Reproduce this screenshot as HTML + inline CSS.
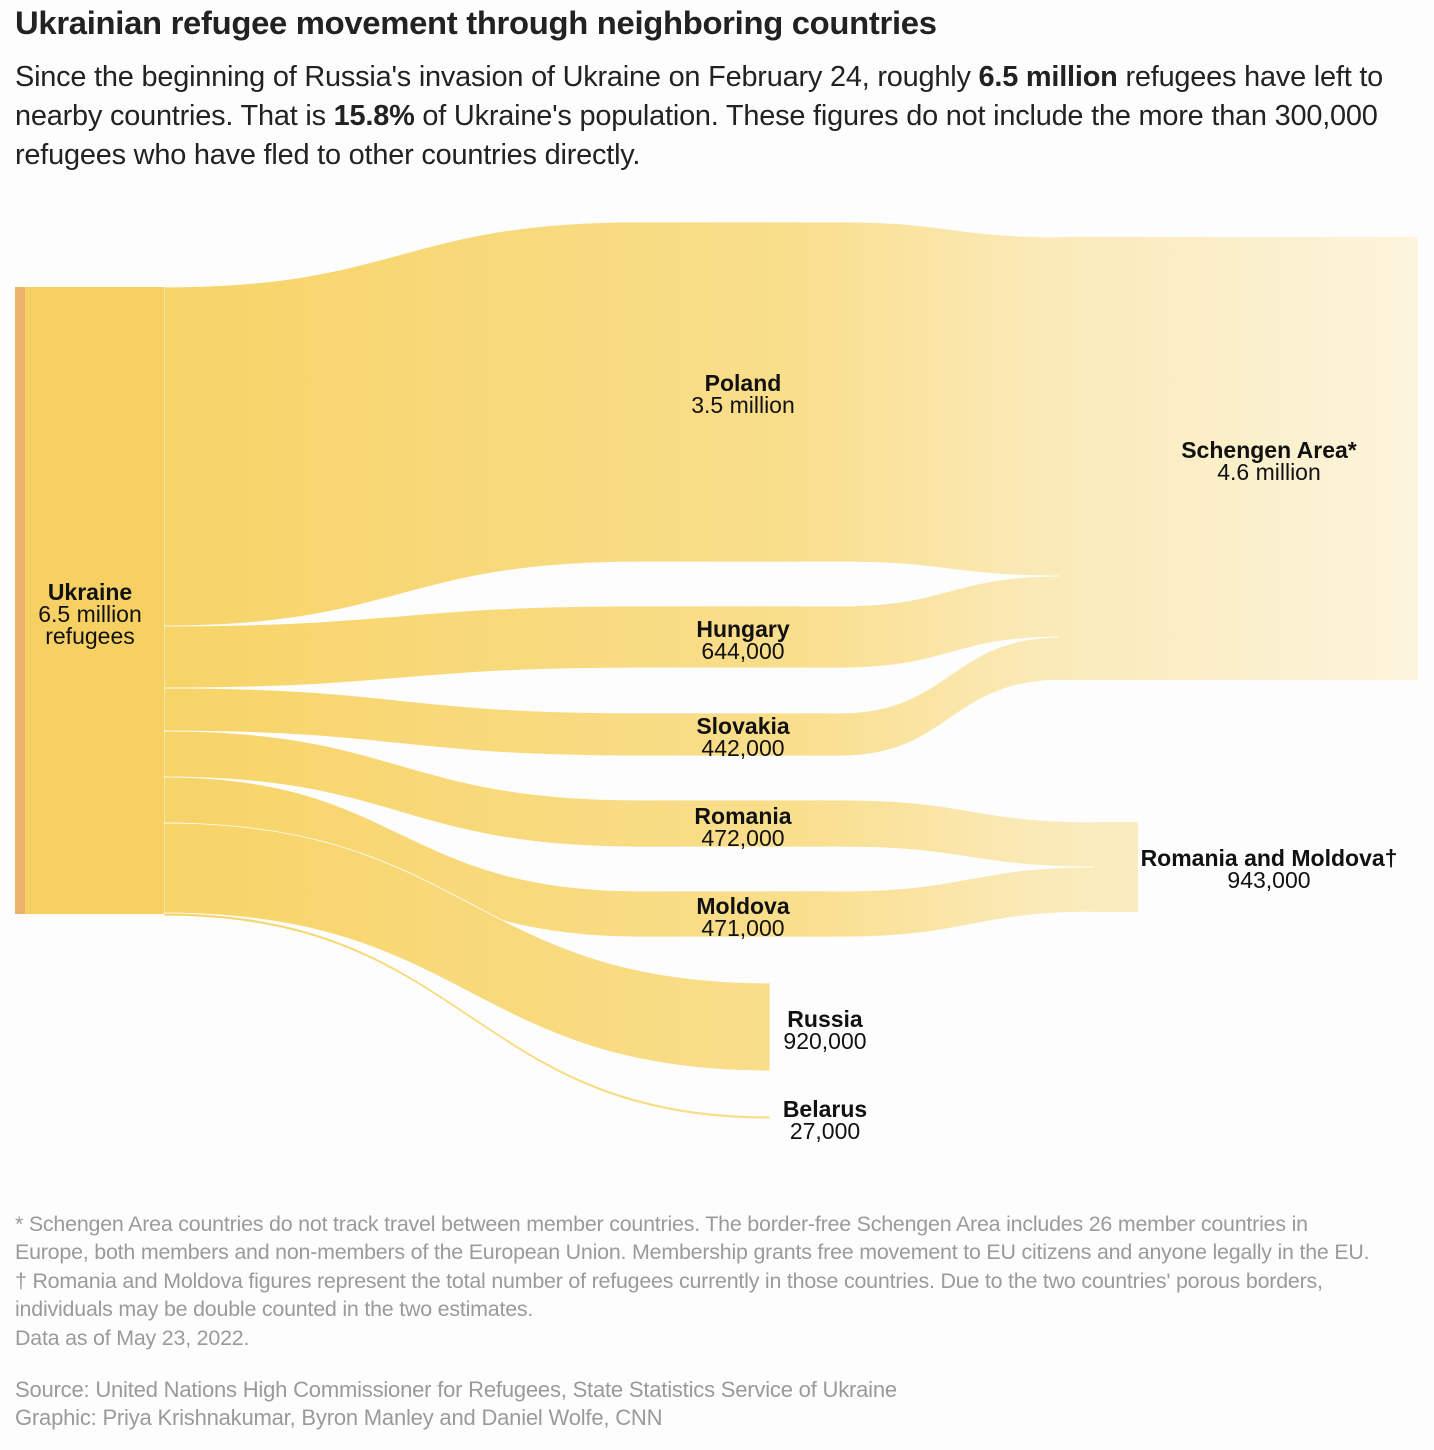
<!DOCTYPE html>
<html><head><meta charset="utf-8"><style>
body{margin:0;width:1434px;height:1450px;background:#fdfdfd;font-family:"Liberation Sans",sans-serif;position:relative;overflow:hidden}
.t{position:absolute;left:15px;top:4px;font-size:32.8px;font-weight:bold;color:#222;letter-spacing:-0.3px}
.d{position:absolute;left:15px;top:58px;font-size:28.9px;line-height:39px;color:#222;width:1420px;letter-spacing:-0.2px;white-space:nowrap}
.f{position:absolute;left:15px;top:1210px;font-size:21.4px;line-height:28.4px;color:#9a9a9a;white-space:nowrap;letter-spacing:-0.2px}
.s{position:absolute;left:15px;top:1376px;font-size:22px;line-height:28px;color:#9a9a9a;letter-spacing:-0.2px}
svg{position:absolute;left:0;top:0}
svg text{font-family:"Liberation Sans",sans-serif;font-size:23px;fill:#111;text-anchor:middle}
</style></head><body>
<div class="t">Ukrainian refugee movement through neighboring countries</div>
<div class="d">Since the beginning of Russia's invasion of Ukraine on February 24, roughly <b>6.5 million</b> refugees have left to<br>nearby countries. That is <b>15.8%</b> of Ukraine's population. These figures do not include the more than 300,000<br>refugees who have fled to other countries directly.</div>
<svg width="1434" height="1450">
<defs>
<linearGradient id="g" x1="164" x2="1418" gradientUnits="userSpaceOnUse"><stop offset="0" stop-color="#f7d468"/><stop offset="0.5" stop-color="#f9de8c"/><stop offset="0.7" stop-color="#faeab8"/><stop offset="1" stop-color="#fcf4dc"/></linearGradient>
</defs>
<g fill="url(#g)" stroke="#fdfdfd" stroke-width="0.8">
<path d="M164,287 C400,287 400,222 640,222 L840,222 C950,222 950,237 1062,237 L1062,576 C950,576 950,562 840,562 L640,562 C400,562 400,626 164,626 Z"/>
<path d="M164,626 C400,626 400,606 640,606 L840,606 C950,606 950,576 1062,576 L1062,637 C950,637 950,668 840,668 L640,668 C400,668 400,688 164,688 Z"/>
<path d="M164,688 C400,688 400,713 640,713 L840,713 C950,713 950,637 1062,637 L1062,680 C950,680 950,756 840,756 L640,756 C400,756 400,731 164,731 Z"/>
<path d="M164,731 C400,731 400,800 640,800 L840,800 C970,800 970,822 1097,822 L1097,867 C970,867 970,847 840,847 L640,847 C400,847 400,777 164,777Z"/>
<path d="M164,777 C400,777 400,891 640,891 L840,891 C970,891 970,867 1097,867 L1097,912 C970,912 970,937 840,937 L640,937 C400,937 400,823 164,823Z"/>
<path d="M164,823 C470,823 470,983 770,983 L770,1071 C470,1071 470,913 164,913Z"/>
<path d="M164,913 C470,913 470,1116 770,1116 L770,1119 C470,1119 470,916 164,916Z"/>
</g>
<g fill="url(#g)">
<rect x="1059" y="237" width="359" height="443"/>
<rect x="1094" y="822" width="44" height="90"/>
</g>
<rect x="15" y="287" width="149" height="627" fill="#f6d063"/>
<rect x="15" y="287" width="10" height="627" fill="#eeb36b"/>
<text x="90" y="600" font-weight="bold">Ukraine</text><text x="90" y="622">6.5 million</text><text x="90" y="644">refugees</text>
<text x="743" y="391" font-weight="bold">Poland</text><text x="743" y="413">3.5 million</text>
<text x="743" y="637" font-weight="bold">Hungary</text><text x="743" y="659">644,000</text>
<text x="743" y="734" font-weight="bold">Slovakia</text><text x="743" y="756">442,000</text>
<text x="743" y="824" font-weight="bold">Romania</text><text x="743" y="846">472,000</text>
<text x="743" y="914" font-weight="bold">Moldova</text><text x="743" y="936">471,000</text>
<text x="825" y="1027" font-weight="bold">Russia</text><text x="825" y="1049">920,000</text>
<text x="825" y="1117" font-weight="bold">Belarus</text><text x="825" y="1139">27,000</text>
<text x="1269" y="458" font-weight="bold">Schengen Area*</text><text x="1269" y="480">4.6 million</text>
<text x="1269" y="866" font-weight="bold">Romania and Moldova†</text><text x="1269" y="888">943,000</text>
</svg>
<div class="f">* Schengen Area countries do not track travel between member countries. The border-free Schengen Area includes 26 member countries in<br>Europe, both members and non-members of the European Union. Membership grants free movement to EU citizens and anyone legally in the EU.<br>† Romania and Moldova figures represent the total number of refugees currently in those countries. Due to the two countries' porous borders,<br>individuals may be double counted in the two estimates.<br>Data as of May 23, 2022.</div>
<div class="s">Source: United Nations High Commissioner for Refugees, State Statistics Service of Ukraine<br>Graphic: Priya Krishnakumar, Byron Manley and Daniel Wolfe, CNN</div>
</body></html>
